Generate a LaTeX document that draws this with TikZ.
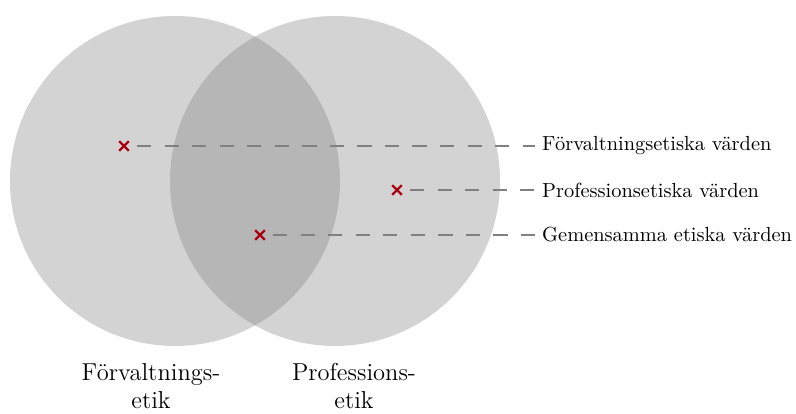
\documentclass[tikz,border=0pt]{standalone}
\usetikzlibrary{shapes.misc}
\tikzset{
  etikset/.style={fill=gray, opacity=0.35},
  xmark/.style={cross out, draw={rgb,255:red,170;green,0;blue,20}, line width=1.1pt,
    minimum size=3.6pt, inner sep=0pt},
  leader/.style={gray, line width=0.8pt, dash pattern=on 7pt off 6.5pt, shorten <=4pt},
  vardelabel/.style={anchor=west},
  setlabel/.style={align=center, font=\large}
}
\begin{document}
\begin{tikzpicture}[x=0.49pt, y=0.49pt]
  \useasboundingbox (0,0) rectangle (796,414);
  % the two sets
  \fill[etikset] (175,233) circle (165);
  \fill[etikset] (335,233) circle (165);
  % values and their labels
  \node[xmark] (m1) at (124,268) {};
  \node[xmark] (m2) at (397,224) {};
  \node[xmark] (m3) at (260,179) {};
  \node[vardelabel] (t1) at (535,268) {Förvaltningsetiska värden};
  \node[vardelabel] (t2) at (535,224) {Professionsetiska värden};
  \node[vardelabel] (t3) at (535,179) {Gemensamma etiska värden};
  \draw[leader] (m1) -- (t1.west);
  \draw[leader] (m2) -- (t2.west);
  \draw[leader] (m3) -- (t3.west);
  % set names
  \node[setlabel] (s1) at (151,28) {Förvaltnings-\\etik};
  \node[setlabel] (s2) at (354,28) {Professions-\\etik};
\end{tikzpicture}
\end{document}
